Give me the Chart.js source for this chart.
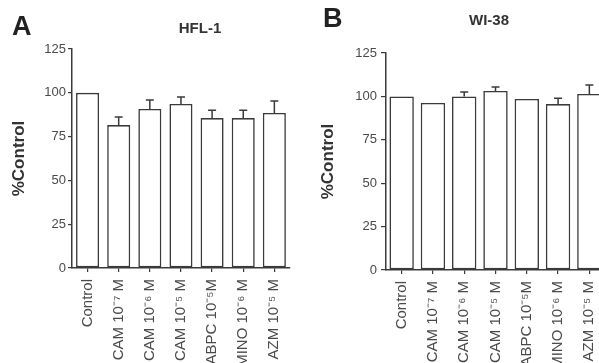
<!DOCTYPE html>
<html>
<head>
<meta charset="utf-8">
<script src="https://cdn.jsdelivr.net/npm/chart.js@4.4.0/dist/chart.umd.min.js"></script>
<style>
  html, body { margin: 0; padding: 0; background: #fff; }
  body { width: 599px; height: 363px; position: relative; overflow: hidden; font-family: "Liberation Sans", Arial, sans-serif; color: #333; }
  .panel { position: absolute; top: 0; height: 363px; overflow: hidden; }
  .letter { position: absolute; font-weight: bold; font-size: 27px; line-height: 1; color: #222; }
  .ptitle { position: absolute; font-weight: bold; font-size: 15px; line-height: 1; color: #333; transform: translateX(-50%); }
</style>
</head>
<body>
<div class="panel" style="left:0;width:300px"><canvas id="chartA" width="300" height="363"></canvas></div>
<div class="panel" style="left:300px;width:299px"><div style="width:320px;height:363px"><canvas id="chartB" width="320" height="363"></canvas></div></div>
<div class="letter" style="left:12px;top:13px">A</div>
<div class="ptitle" style="left:200px;top:20px">HFL-1</div>
<div class="letter" style="left:323px;top:5px">B</div>
<div class="ptitle" style="left:489px;top:12px">WI-38</div>
<script>
const categories = ['Control', 'CAM 10⁻⁷ M', 'CAM 10⁻⁶ M', 'CAM 10⁻⁵ M', 'ABPC 10⁻⁵M', 'MINO 10⁻⁶ M', 'AZM 10⁻⁵ M'];
const yTicks = [0, 25, 50, 75, 100, 125];

const hfl_means = [100, 81.6, 90.8, 93.6, 85.6, 85.6, 88.5];
const hfl_errors = [0, 4.6, 5.1, 4.0, 4.4, 4.4, 6.8];

const wi_means = [100, 96.2, 100, 103.1, 98.5, 95.6, 101.4];
const wi_errors = [0, 0, 2.5, 2.3, 0, 3.4, 5.2];

const ink = '#3a3a3a';

// upper error whiskers, drawn from the bar scales
const errorBars = {
  id: 'errorBars',
  afterDatasetsDraw (chart, args, opts) {
    const ctx = chart.ctx;
    const meta = chart.getDatasetMeta(0);
    const yScale = chart.scales.y;
    const errs = opts.errors || [];
    ctx.save();
    ctx.strokeStyle = ink;
    ctx.lineWidth = 1.5;
    meta.data.forEach((bar, i) => {
      const e = errs[i];
      if (!e) return;
      const v = chart.data.datasets[0].data[i];
      const y0 = yScale.getPixelForValue(v);
      const y1 = yScale.getPixelForValue(v + e);
      ctx.beginPath();
      ctx.moveTo(bar.x, y0);
      ctx.lineTo(bar.x, y1);
      ctx.moveTo(bar.x - 4, y1);
      ctx.lineTo(bar.x + 4, y1);
      ctx.stroke();
    });
    ctx.restore();
  }
};

function make_chart (id, means, errors, cfg) {
  const ctx = document.getElementById(id).getContext('2d');
  return new Chart(ctx, {
    type: 'bar',
    data: {
      labels: categories,
      datasets: [{
        data: means,
        backgroundColor: '#ffffff',
        borderColor: ink,
        borderWidth: 1.6,
        borderSkipped: false,
        barPercentage: cfg.barPct,
        categoryPercentage: 1
      }]
    },
    plugins: [errorBars],
    options: {
      responsive: false,
      animation: false,
      events: [],
      layout: {
        padding: { top: cfg.top, right: cfg.right, left: 0, bottom: 0 }
      },
      plugins: {
        legend: { display: false },
        tooltip: { enabled: false },
        errorBars: { errors: errors }
      },
      scales: {
        x: {
          grid: { display: true, drawOnChartArea: false, offset: false, tickLength: 4, color: ink, lineWidth: 1.2 },
          border: { display: true, color: ink, width: 1.5 },
          ticks: {
            autoSkip: false,
            minRotation: 90,
            maxRotation: 90,
            padding: 7,
            color: '#4a4a4a',
            font: { family: '"Liberation Sans", Arial, sans-serif', size: 15 }
          },
          afterFit: (scale) => { scale.height = cfg.xHeight; }
        },
        y: {
          min: 0,
          max: 125,
          afterBuildTicks: (scale) => { scale.ticks = yTicks.map(v => ({ value: v })); },
          grid: { display: true, drawOnChartArea: false, tickLength: cfg.tickLen, color: ink, lineWidth: 1.2 },
          border: { display: true, color: ink, width: 1.5 },
          ticks: {
            padding: cfg.tickPad,
            color: '#4a4a4a',
            font: { family: '"Liberation Sans", Arial, sans-serif', size: 13 }
          },
          title: {
            display: true,
            text: '%Control',
            color: '#333',
            padding: { top: cfg.titlePad, bottom: 0 },
            font: { family: '"Liberation Sans", Arial, sans-serif', size: 17, weight: 'bold' }
          },
          afterFit: (scale) => { scale.width = cfg.yWidth; }
        }
      }
    }
  });
}

document.addEventListener('DOMContentLoaded', function () {
  make_chart('chartA', hfl_means, hfl_errors, {
    top: 49, right: 9, xHeight: 95, yWidth: 72, tickLen: 4, tickPad: 2, titlePad: 9, barPct: 0.74
  });
  make_chart('chartB', wi_means, wi_errors, {
    top: 53, right: 15, xHeight: 93, yWidth: 86, tickLen: 5, tickPad: 4, titlePad: 18, barPct: 0.78
  });
});
</script>
</body>
</html>
